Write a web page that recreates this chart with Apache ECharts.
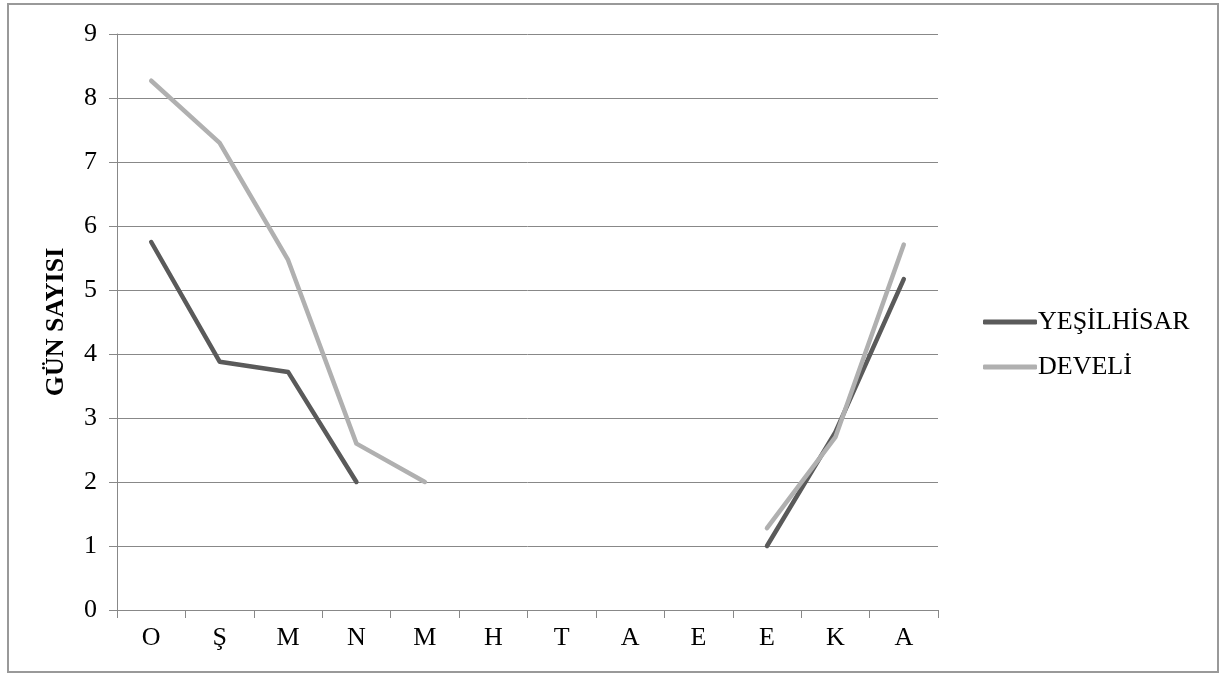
<!DOCTYPE html>
<html>
<head>
<meta charset="utf-8">
<script src="https://cdn.jsdelivr.net/npm/echarts@6/dist/echarts.min.js"></script>
<style>
html,body{margin:0;padding:0;background:#fff;}
#chart{width:1221px;height:673px;}
</style>
</head>
<body>
<div id="chart"></div>
<script>
const categories = ['O','Ş','M','N','M','H','T','A','E','E','K','A'];
const yesilhisar = [5.75, 3.88, 3.72, 2.0, null, null, null, null, null, 1.0, 2.78, 5.17];
const develi = [8.27, 7.3, 5.47, 2.6, 2.0, null, null, null, null, 1.28, 2.7, 5.71];
const yTicks = [0,1,2,3,4,5,6,7,8,9];

const FONT = '"Liberation Serif", "DejaVu Serif", serif';
const chart = echarts.init(document.getElementById('chart'), null, {renderer:'canvas'});
chart.setOption({
  backgroundColor: '#ffffff',
  animation: false,
  graphic: [{
    type: 'rect',
    shape: {x: 8, y: 4, width: 1210, height: 668},
    style: {fill: 'none', stroke: '#999999', lineWidth: 2},
    silent: true
  }],
  grid: {left: 117, right: 283, top: 34, bottom: 63},
  legend: {
    orient: 'vertical',
    left: 978,
    top: 304,
    itemWidth: 54,
    itemHeight: 5,
    itemGap: 19,
    icon: 'roundRect',
    textStyle: {fontFamily: FONT, fontSize: 26, color: '#000', padding: [0,0,0,-4]},
    data: ['YEŞİLHİSAR', 'DEVELİ']
  },
  xAxis: {
    type: 'category',
    data: categories,
    boundaryGap: true,
    axisLine: {lineStyle: {color: '#888888', width: 1}},
    axisTick: {show: true, length: 8, lineStyle: {color: '#888888'}},
    axisLabel: {fontFamily: FONT, fontSize: 26, color: '#000', margin: 15},
    splitLine: {show: false}
  },
  yAxis: {
    type: 'value',
    min: yTicks[0],
    max: yTicks[yTicks.length-1],
    interval: 1,
    name: 'GÜN SAYISI',
    nameLocation: 'middle',
    nameGap: 48,
    nameRotate: 90,
    nameTextStyle: {fontFamily: FONT, fontSize: 26, fontWeight: 'bold', color: '#000'},
    axisLine: {show: true, lineStyle: {color: '#888888', width: 1}},
    axisTick: {show: true, length: 8, lineStyle: {color: '#888888'}},
    axisLabel: {fontFamily: FONT, fontSize: 26, color: '#000', margin: 20},
    splitLine: {show: true, lineStyle: {color: '#888888', width: 1}}
  },
  series: [
    {
      name: 'YEŞİLHİSAR',
      type: 'line',
      data: yesilhisar,
      showSymbol: false,
      symbol: 'none',
      connectNulls: false,
      color: '#5a5a5a',
      lineStyle: {width: 4.5, color: '#5a5a5a', cap: 'round', join: 'round'}
    },
    {
      name: 'DEVELİ',
      type: 'line',
      data: develi,
      showSymbol: false,
      symbol: 'none',
      connectNulls: false,
      color: '#b0b0b0',
      lineStyle: {width: 4.5, color: '#b0b0b0', cap: 'round', join: 'round'}
    }
  ]
});
</script>
</body>
</html>
